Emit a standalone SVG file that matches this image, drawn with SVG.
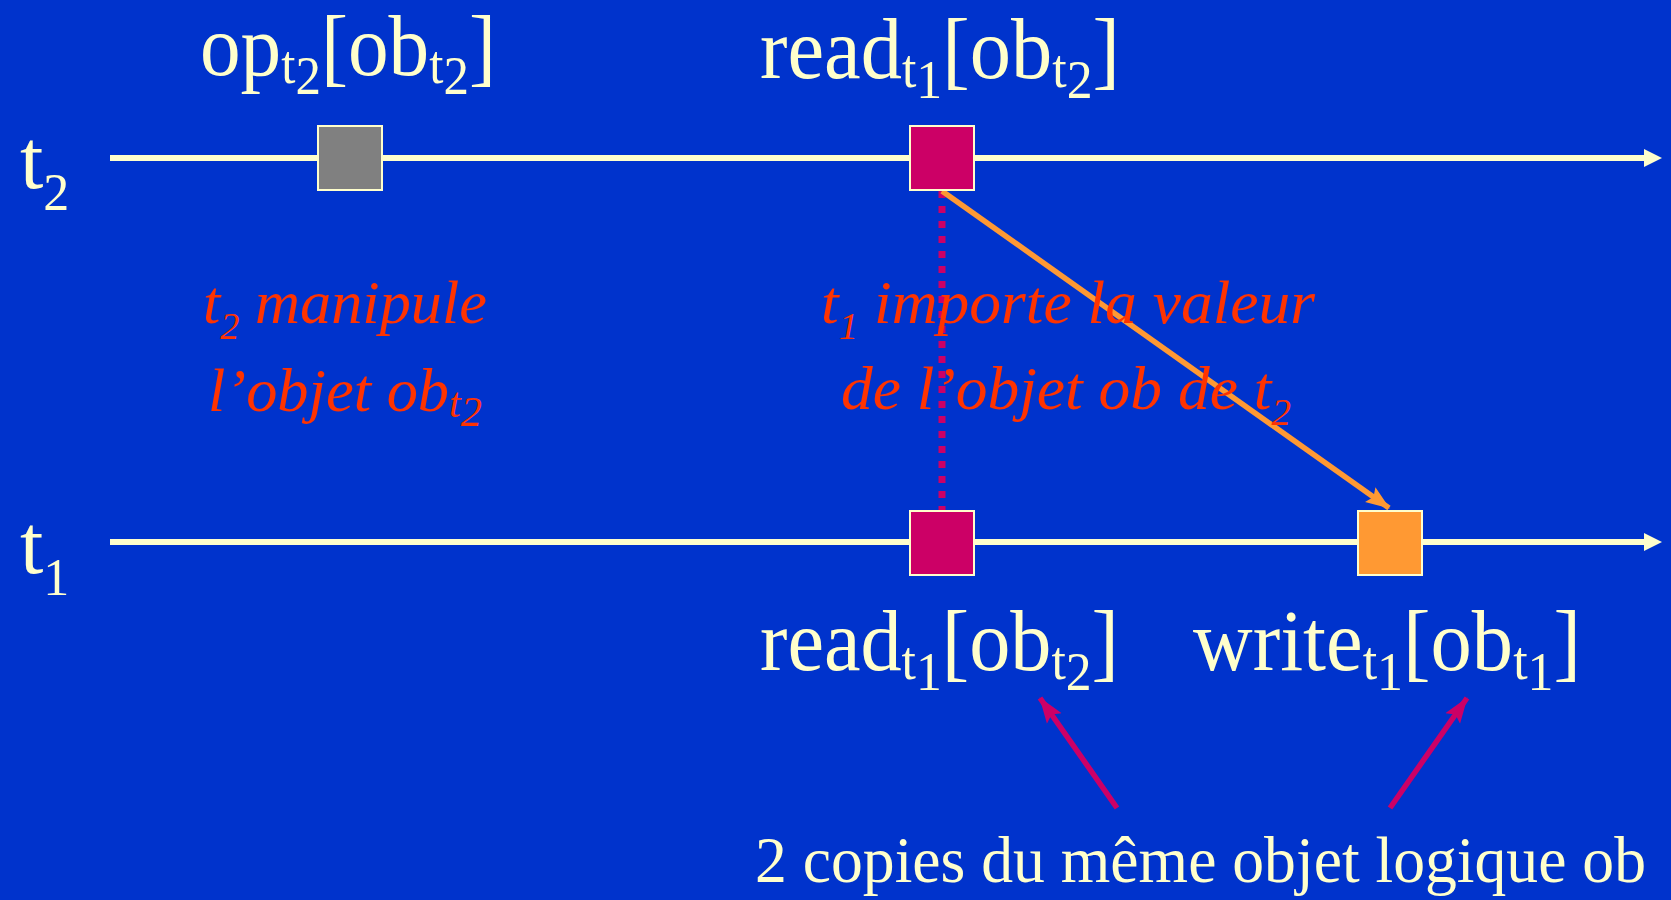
<svg xmlns="http://www.w3.org/2000/svg" width="1671" height="900" viewBox="0 0 1671 900">
  <defs>
    <style>
      .lbl { font-family: "Liberation Serif", "Times New Roman", serif; fill: #FFFFCC; }
      .note { font-family: "Liberation Serif", "Times New Roman", serif; font-style: italic; fill: #FF3300; }
      .axis { stroke: #FFFFCC; stroke-width: 6; fill: none; }
      .op { stroke: #FFFFCC; stroke-width: 2; }
    </style>
    <marker id="headOrange" markerUnits="userSpaceOnUse" markerWidth="24" markerHeight="20" viewBox="0 0 24 20" refX="23" refY="10" orient="auto">
      <path d="M0,1 L24,10 L0,19 L4,10 z" fill="#FF9933"/>
    </marker>
    <marker id="headMagenta" markerUnits="userSpaceOnUse" markerWidth="26" markerHeight="20" viewBox="0 0 26 20" refX="25" refY="10" orient="auto">
      <path d="M0,1 L26,10 L0,19 L5,10 z" fill="#CC0066"/>
    </marker>
  </defs>

  <!-- background -->
  <rect x="0" y="0" width="1671" height="900" fill="#0033CC"/>

  <!-- time axes -->
  <g id="axis-t2">
    <line class="axis" x1="110" y1="158" x2="1646" y2="158"/>
    <polygon points="1644,149 1662,158 1644,167" fill="#FFFFCC"/>
    <text class="lbl" x="20" y="188" font-size="84">t<tspan font-size="52" dy="22">2</tspan></text>
  </g>
  <g id="axis-t1">
    <line class="axis" x1="110" y1="542" x2="1646" y2="542"/>
    <polygon points="1644,533 1662,542 1644,551" fill="#FFFFCC"/>
    <text class="lbl" x="20" y="573" font-size="84">t<tspan font-size="52" dy="22">1</tspan></text>
  </g>

  <!-- connectors -->
  <g id="connectors">
    <line x1="942" y1="191" x2="942" y2="510" stroke="#CC0066" stroke-width="7" stroke-dasharray="7 8"/>
    <line x1="942" y1="191" x2="1389" y2="508" stroke="#FF9933" stroke-width="5.5" marker-end="url(#headOrange)"/>
    <line x1="1117" y1="808" x2="1040" y2="698" stroke="#CC0066" stroke-width="5.5" marker-end="url(#headMagenta)"/>
    <line x1="1390" y1="808" x2="1467" y2="698" stroke="#CC0066" stroke-width="5.5" marker-end="url(#headMagenta)"/>
  </g>

  <!-- operations -->
  <g id="op-t2">
    <rect class="op" x="318" y="126" width="64" height="64" fill="#808080"/>
    <text class="lbl" x="200" y="75" font-size="86" textLength="296" lengthAdjust="spacingAndGlyphs">op<tspan font-size="54" dy="8">t</tspan><tspan font-size="54" dy="11">2</tspan><tspan dy="-19">[ob</tspan><tspan font-size="54" dy="8">t</tspan><tspan font-size="54" dy="11">2</tspan><tspan dy="-19">]</tspan></text>
  </g>
  <g id="read-t2">
    <rect class="op" x="910" y="126" width="64" height="64" fill="#CC0066"/>
    <text class="lbl" x="760" y="78" font-size="86" textLength="360" lengthAdjust="spacingAndGlyphs">read<tspan font-size="54" dy="9">t</tspan><tspan font-size="54" dy="11">1</tspan><tspan dy="-20">[ob</tspan><tspan font-size="54" dy="9">t</tspan><tspan font-size="54" dy="11">2</tspan><tspan dy="-20">]</tspan></text>
  </g>
  <g id="read-t1">
    <rect class="op" x="910" y="511" width="64" height="64" fill="#CC0066"/>
    <text class="lbl" x="760" y="670" font-size="86" textLength="359" lengthAdjust="spacingAndGlyphs">read<tspan font-size="54" dy="9">t</tspan><tspan font-size="54" dy="11">1</tspan><tspan dy="-20">[ob</tspan><tspan font-size="54" dy="9">t</tspan><tspan font-size="54" dy="11">2</tspan><tspan dy="-20">]</tspan></text>
  </g>
  <g id="write-t1">
    <rect class="op" x="1358" y="511" width="64" height="64" fill="#FF9933"/>
    <text class="lbl" x="1193" y="670" font-size="86" textLength="388" lengthAdjust="spacingAndGlyphs">write<tspan font-size="54" dy="9">t</tspan><tspan font-size="54" dy="11">1</tspan><tspan dy="-20">[ob</tspan><tspan font-size="54" dy="9">t</tspan><tspan font-size="54" dy="11">1</tspan><tspan dy="-20">]</tspan></text>
  </g>

  <!-- annotations -->
  <g id="note-left">
    <text class="note" x="203" y="323" font-size="62" textLength="284" lengthAdjust="spacingAndGlyphs">t<tspan font-size="38" dy="16">2</tspan><tspan dy="-16"> manipule</tspan></text>
    <text class="note" x="208" y="411" font-size="62" textLength="274" lengthAdjust="spacingAndGlyphs">l’objet ob<tspan font-size="42" dy="6">t</tspan><tspan font-size="42" dy="9">2</tspan></text>
  </g>
  <g id="note-right">
    <text class="note" x="821" y="323" font-size="62" textLength="494" lengthAdjust="spacingAndGlyphs">t<tspan font-size="38" dy="16">1</tspan><tspan dy="-16"> importe la valeur</tspan></text>
    <text class="note" x="841" y="409" font-size="62" textLength="450" lengthAdjust="spacingAndGlyphs">de l’objet ob de t<tspan font-size="38" dy="16">2</tspan></text>
  </g>
  <g id="note-bottom">
    <text class="lbl" x="755" y="882" font-size="66" textLength="891" lengthAdjust="spacingAndGlyphs">2 copies du même objet logique ob</text>
  </g>
</svg>
